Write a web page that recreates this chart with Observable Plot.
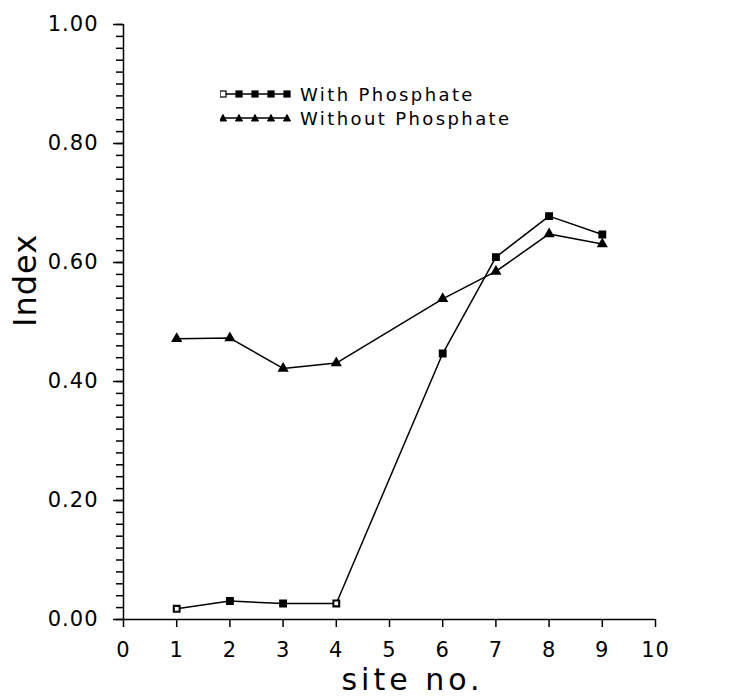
<!DOCTYPE html>
<html>
<head>
<meta charset="utf-8">
<script src="https://cdn.jsdelivr.net/npm/d3@7"></script>
<script src="https://cdn.jsdelivr.net/npm/@observablehq/plot@0.6"></script>
<style>
  html, body { margin: 0; padding: 0; background: #fff; }
  #wrap { position: relative; width: 741px; height: 698px; font-family: "DejaVu Sans", sans-serif; }
  #legend { position: absolute; left: 220px; top: 82px; font-size: 18px; letter-spacing: 2.4px; color: #000; }
  .row { display: flex; align-items: center; height: 24px; }
  .row svg { margin-right: 8px; }
</style>
</head>
<body>
<div id="wrap"></div>
<script>
// ---- data ----
const sites = [1, 2, 3, 4, 6, 7, 8, 9];
const withPhosphate = [0.018, 0.031, 0.027, 0.027, 0.447, 0.609, 0.678, 0.647];
const withoutPhosphate = [0.472, 0.473, 0.422, 0.431, 0.539, 0.585, 0.648, 0.631];
const seriesNames = ["With Phosphate", "Without Phosphate"];
const xTicks = [0, 1, 2, 3, 4, 5, 6, 7, 8, 9, 10];
const yTicks = [0, 0.2, 0.4, 0.6, 0.8, 1.0];
const yMinorStep = 0.02;
const xLabel = "site no.";
const yLabel = "Index";

const data = sites.map((s, i) => ({site: s, w: withPhosphate[i], wo: withoutPhosphate[i]}));
const yMinor = d3.range(0, Math.round(1 / yMinorStep) + 1).map(i => +(i * yMinorStep).toFixed(2));

const chart = Plot.plot({
  width: 741,
  height: 698,
  marginLeft: 123,
  marginRight: 86,
  marginTop: 24,
  marginBottom: 79,
  style: {fontFamily: "DejaVu Sans, sans-serif", fontSize: "20px", color: "#000", background: "#fff"},
  x: {domain: [0, 10]},
  y: {domain: [0, 1]},
  marks: [
    Plot.axisY(yMinor, {tickSize: 7, tickFormat: () => "", label: null, strokeWidth: 1.5}),
    Plot.axisY(yTicks, {tickSize: 10, tickPadding: 15, tickFormat: d3.format(".2f"), label: null, fontSize: 21, strokeWidth: 1.5}),
    Plot.axisX(xTicks, {tickSize: 8, tickPadding: 15, label: null, fontSize: 21, strokeWidth: 1.5}),
    Plot.ruleX([0], {strokeWidth: 1.5}),
    Plot.ruleY([0], {strokeWidth: 1.5}),
    Plot.line(data, {x: "site", y: "w", stroke: "black", strokeWidth: 1.5}),
    Plot.dot(data, {x: "site", y: "w", symbol: "square", r: 3.6, fill: "black", stroke: "black"}),
    Plot.dot(data.filter(d => d.site === 1 || d.site === 4), {x: "site", y: "w", symbol: "square", r: 2.8, fill: "white", stroke: "black", strokeWidth: 1.2}),
    Plot.line(data, {x: "site", y: "wo", stroke: "black", strokeWidth: 1.5}),
    Plot.dot(data, {x: "site", y: "wo", symbol: "triangle", r: 3.2, fill: "black", stroke: "black"}),
    Plot.text([yLabel], {frameAnchor: "left", dx: -98, dy: 5, rotate: -90, fontSize: 32}),
    Plot.text([xLabel], {frameAnchor: "bottom", dx: 23, dy: 70, fontSize: 30})
  ]
});

// letter spacing to imitate the wide plotter lettering
d3.select(chart).selectAll("text").each(function() {
  const t = this.textContent;
  if (t === xLabel) d3.select(this).attr("letter-spacing", "4px");
  else if (t === yLabel) d3.select(this).attr("letter-spacing", "1px");
  else d3.select(this).attr("letter-spacing", "1px");
});

const wrap = document.getElementById("wrap");
wrap.appendChild(chart);

// legend (inside the plot area, as in the original)
function legendIcon(symbol) {
  const w = 72, h = 14;
  let s = `<svg width="${w}" height="${h}" viewBox="0 0 ${w} ${h}"><line x1="3" y1="7" x2="67" y2="7" stroke="black" stroke-width="1.6"/>`;
  for (let i = 0; i < 5; i++) {
    const cx = 3 + i * 16;
    if (symbol === "square") {
      const open = i === 0;
      s += `<rect x="${cx - 3}" y="4" width="6" height="6" fill="${open ? "white" : "black"}" stroke="black" stroke-width="1.2"/>`;
    } else {
      s += `<path d="M${cx - 3.5},10 L${cx + 3.5},10 L${cx},3.5 Z" fill="black" stroke="black" stroke-width="1"/>`;
    }
  }
  return s + `</svg>`;
}
const legend = document.createElement("div");
legend.id = "legend";
legend.innerHTML = seriesNames.map((n, i) =>
  `<div class="row">${legendIcon(i === 0 ? "square" : "triangle")}<span>${n}</span></div>`).join("");
wrap.appendChild(legend);
</script>
</body>
</html>
